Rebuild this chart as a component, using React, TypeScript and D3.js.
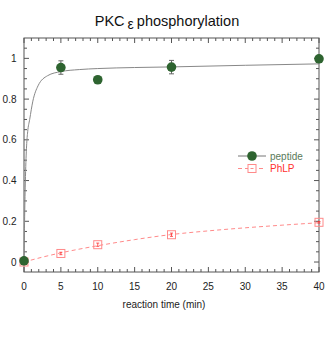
import React from "react";
import * as d3 from "d3";

const W = 327;
const H = 343;

const peptideT = [0, 5, 10, 20, 40];
const peptideY = [0.006, 0.955, 0.895, 0.957, 0.998];
const peptideErr = [0.01, 0.033, 0.01, 0.033, 0.01];

const phlpT = [0, 5, 10, 20, 40];
const phlpY = [0.0, 0.042, 0.085, 0.134, 0.195];
const phlpErr = [0.0, 0.006, 0.008, 0.008, 0.004];

const peptideFitT = [0, 0.1, 0.2, 0.35, 0.5, 0.77, 1.2, 1.9, 3.2, 5, 7.5, 10, 15, 20, 30, 40];
const peptideFitY = [0.0, 0.25, 0.42, 0.57, 0.64, 0.7, 0.79, 0.865, 0.915, 0.935, 0.945, 0.95, 0.955, 0.958, 0.966, 0.973];

const phlpFitT = [0, 2.5, 5, 10, 15, 20, 25, 30, 35, 40];
const phlpFitY = [0.0, 0.024, 0.045, 0.08, 0.11, 0.135, 0.153, 0.168, 0.181, 0.193];

const xTicks = [0, 5, 10, 15, 20, 25, 30, 35, 40];
const yTicks = [0, 0.2, 0.4, 0.6, 0.8, 1];
const yTickLabels = ["0", "0.2", "0.4", "0.6", "0.8", "1"];

const GREEN = "#2e6430";
const RED = "#ff3030";
const PINK = "#ff8a8a";
const FRAME = "#555";

export default function App() {
  const left = 24, right = 319, top = 38, bottom = 272;
  const x = d3.scaleLinear().domain([0, 40]).range([left, right]);
  const y = d3.scaleLinear().domain([-0.049, 1.1]).range([bottom, top]);

  const line = d3
    .line<[number, number]>()
    .x((d) => x(d[0]))
    .y((d) => y(d[1]))
    .curve(d3.curveMonotoneX);

  const pepFit = line(peptideFitT.map((t, i) => [t, peptideFitY[i]]) as [number, number][]) || "";
  const phFit = line(phlpFitT.map((t, i) => [t, phlpFitY[i]]) as [number, number][]) || "";

  const minorX = d3.range(0, 41, 1);
  const minorY = d3.range(-0.05, 1.1001, 0.05).filter((v) => v > -0.049 && v < 1.099);

  const font = "'Liberation Sans', Arial, Helvetica, sans-serif";

  return (
    <svg
      width={W}
      height={H}
      style={{ position: "fixed", left: 0, top: 0, background: "#fff" }}
      fontFamily={font}
    >
      <rect x={0} y={0} width={W} height={H} fill="#fff" />
      {/* title */}
      <text x={167} y={26} textAnchor="middle" fontSize={14.5} fill="#111">
        PKC
        <tspan fontSize={14} dy={2.5} dx={3}>ε</tspan>
        <tspan dy={-2.5} dx={3}>phosphorylation</tspan>
      </text>

      {/* frame */}
      <rect x={left} y={top} width={right - left} height={bottom - top} fill="none" stroke={FRAME} strokeWidth={1} />

      {/* x ticks */}
      {minorX.map((v) => {
        const major = v % 5 === 0;
        const len = major ? 5 : 3;
        return (
          <g key={"x" + v} stroke={FRAME} strokeWidth={1}>
            <line x1={x(v)} x2={x(v)} y1={bottom} y2={bottom - len} />
            <line x1={x(v)} x2={x(v)} y1={top} y2={top + len} />
          </g>
        );
      })}
      {/* y ticks */}
      {minorY.map((v, i) => {
        const major = Math.abs(Math.round(v * 5) - v * 5) < 1e-6;
        const len = major ? 5 : 3;
        return (
          <g key={"y" + i} stroke={FRAME} strokeWidth={1}>
            <line x1={left} x2={left + len} y1={y(v)} y2={y(v)} />
            <line x1={right} x2={right - len} y1={y(v)} y2={y(v)} />
          </g>
        );
      })}

      {xTicks.map((v) => (
        <text key={"xl" + v} x={x(v)} y={290} textAnchor="middle" fontSize={10} fill="#222">
          {v}
        </text>
      ))}
      {yTicks.map((v, i) => (
        <text key={"yl" + v} x={16.5} y={y(v) + 3.5} textAnchor="end" fontSize={10} fill="#222">
          {yTickLabels[i]}
        </text>
      ))}
      <text x={164} y={308} textAnchor="middle" fontSize={10} fill="#222">
        reaction time (min)
      </text>

      {/* fits */}
      <path d={pepFit} fill="none" stroke="#888" strokeWidth={1} />
      <path d={phFit} fill="none" stroke={PINK} strokeWidth={1} strokeDasharray="4,3" />

      {/* PhLP */}
      {phlpT.map((t, i) => (
        <g key={"p" + i}>
          <rect x={x(t) - 4} y={y(phlpY[i]) - 4} width={8} height={8} fill="none" stroke={PINK} strokeWidth={1} />
          {phlpErr[i] > 0 && (
            <g stroke={RED} strokeWidth={0.8}>
              <line x1={x(t)} x2={x(t)} y1={y(phlpY[i] - phlpErr[i])} y2={y(phlpY[i] + phlpErr[i])} />
              <line x1={x(t) - 1.5} x2={x(t) + 1.5} y1={y(phlpY[i] - phlpErr[i])} y2={y(phlpY[i] - phlpErr[i])} />
              <line x1={x(t) - 1.5} x2={x(t) + 1.5} y1={y(phlpY[i] + phlpErr[i])} y2={y(phlpY[i] + phlpErr[i])} />
            </g>
          )}
        </g>
      ))}

      {/* peptide */}
      {peptideT.map((t, i) => (
        <g key={"c" + i}>
          <g stroke="#666" strokeWidth={1}>
            <line x1={x(t)} x2={x(t)} y1={y(peptideY[i] - peptideErr[i])} y2={y(peptideY[i] + peptideErr[i])} />
            <line x1={x(t) - 2.5} x2={x(t) + 2.5} y1={y(peptideY[i] - peptideErr[i])} y2={y(peptideY[i] - peptideErr[i])} />
            <line x1={x(t) - 2.5} x2={x(t) + 2.5} y1={y(peptideY[i] + peptideErr[i])} y2={y(peptideY[i] + peptideErr[i])} />
          </g>
          <circle cx={x(t)} cy={y(peptideY[i])} r={4.8} fill={GREEN} />
        </g>
      ))}

      {/* legend */}
      <line x1={238} x2={266} y1={156} y2={156} stroke="#777" strokeWidth={1} />
      <circle cx={252} cy={156} r={4.8} fill={GREEN} />
      <text x={270} y={159.5} fontSize={10} fill="#5a7a5a">peptide</text>
      <line x1={238} x2={266} y1={168.5} y2={168.5} stroke={PINK} strokeWidth={1} strokeDasharray="4,3" />
      <rect x={248} y={164.5} width={8} height={8} fill="#fff" stroke={PINK} strokeWidth={1} />
      <line x1={250.5} x2={253.5} y1={168.5} y2={168.5} stroke={PINK} strokeWidth={1} />
      <text x={270} y={172} fontSize={10} fill={RED}>PhLP</text>
    </svg>
  );
}
